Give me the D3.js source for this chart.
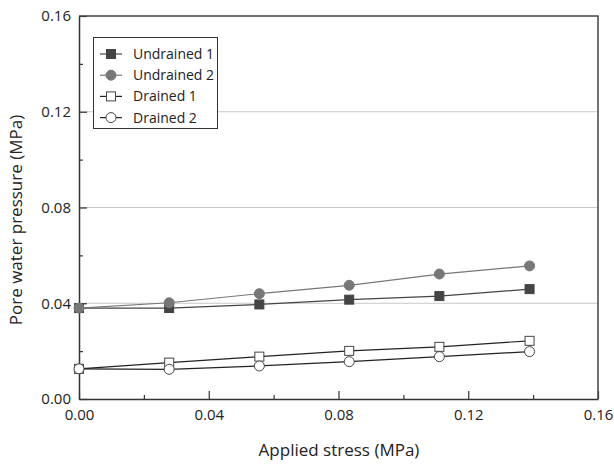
<!DOCTYPE html>
<html>
<head>
<meta charset="utf-8">
<script src="https://cdn.jsdelivr.net/npm/d3@7"></script>
<style>
  body { margin: 0; background: #fff; }
  svg { display: block; font-family: "Open Sans", "Noto Sans", sans-serif; }
</style>
</head>
<body>
<svg id="chart" width="614" height="464"></svg>
<script>
// Applied stress (MPa) at each loading step
const stress = [0, 0.0278, 0.0556, 0.0833, 0.1111, 0.1389];

// Pore water pressure (MPa) for each test
const undrained1 = [0.0380, 0.0380, 0.0395, 0.0415, 0.0430, 0.0459];
const undrained2 = [0.0380, 0.0402, 0.0440, 0.0475, 0.0522, 0.0556];
const drained1   = [0.0126, 0.0152, 0.0177, 0.0201, 0.0218, 0.0243];
const drained2   = [0.0126, 0.0124, 0.0138, 0.0156, 0.0177, 0.0198];

const seriesNames = ["Undrained 1", "Undrained 2", "Drained 1", "Drained 2"];
const xTicks = [0, 0.04, 0.08, 0.12, 0.16];
const yTicks = [0, 0.04, 0.08, 0.12, 0.16];

const series = [
  { name: seriesNames[0], values: undrained1, shape: "square", fill: "#444", stroke: "#444", line: "#444" },
  { name: seriesNames[1], values: undrained2, shape: "circle", fill: "#777", stroke: "#777", line: "#777" },
  { name: seriesNames[2], values: drained1,   shape: "square", fill: "#fff", stroke: "#444", line: "#222" },
  { name: seriesNames[3], values: drained2,   shape: "circle", fill: "#fff", stroke: "#444", line: "#222" }
];

const svg = d3.select("#chart");
const m = { left: 79, right: 598, top: 16, bottom: 399 };

const x = d3.scaleLinear().domain([0, 0.16]).range([m.left, m.right]);
const y = d3.scaleLinear().domain([0, 0.16]).range([m.bottom, m.top]);

// horizontal grid lines
svg.append("g").selectAll("line")
  .data(yTicks.filter(t => t > 0 && t < 0.16))
  .join("line")
  .attr("x1", m.left).attr("x2", m.right)
  .attr("y1", d => y(d)).attr("y2", d => y(d))
  .attr("stroke", "#c8c8c8").attr("stroke-width", 1);

// axes with inward ticks
const fmt = d3.format(".2f");
const xMinor = d3.range(0.02, 0.16, 0.04);
const yMinor = d3.range(0.02, 0.16, 0.04);

const xAxis = svg.append("g").attr("transform", `translate(0,${m.bottom})`)
  .call(d3.axisBottom(x).tickValues(xTicks).tickFormat(fmt).tickSizeInner(-8).tickSizeOuter(0).tickPadding(10));
const yAxis = svg.append("g").attr("transform", `translate(${m.left},0)`)
  .call(d3.axisLeft(y).tickValues(yTicks).tickFormat(fmt).tickSizeInner(-8).tickSizeOuter(0).tickPadding(8));

svg.append("g").attr("transform", `translate(0,${m.bottom})`)
  .call(d3.axisBottom(x).tickValues(xMinor).tickFormat("").tickSizeInner(-4).tickSizeOuter(0))
  .call(g => g.select(".domain").remove());
svg.append("g").attr("transform", `translate(${m.left},0)`)
  .call(d3.axisLeft(y).tickValues(yMinor).tickFormat("").tickSizeInner(-4).tickSizeOuter(0))
  .call(g => g.select(".domain").remove());

[xAxis, yAxis].forEach(g => {
  g.selectAll("text").attr("font-size", 15).attr("fill", "#222")
    .style("font-family", "'Open Sans', 'Noto Sans', sans-serif");
  g.select(".domain").attr("stroke", "#333").attr("stroke-width", 1.5);
});
svg.selectAll(".tick line").attr("stroke", "#333").attr("stroke-width", 1.2);

// plot frame (top and right)
svg.append("path")
  .attr("d", `M${m.left},${m.top}H${m.right}V${m.bottom}`)
  .attr("fill", "none").attr("stroke", "#444").attr("stroke-width", 1.5);

// axis titles
svg.append("text")
  .attr("x", 339).attr("y", 456)
  .attr("text-anchor", "middle").attr("font-size", 17).attr("fill", "#222")
  .text("Applied stress (MPa)");
svg.append("text")
  .attr("transform", `translate(22,220) rotate(-90)`)
  .attr("text-anchor", "middle").attr("font-size", 17).attr("fill", "#222")
  .text("Pore water pressure (MPa)");

// lines and markers
const line = d3.line().x((d, i) => x(stress[i])).y(d => y(d));

function marker(g, s, cx, cy) {
  if (s.shape === "square") {
    g.append("rect").attr("x", cx - 4.5).attr("y", cy - 4.5)
      .attr("width", 9).attr("height", 9)
      .attr("fill", s.fill).attr("stroke", s.stroke).attr("stroke-width", 1);
  } else {
    g.append("circle").attr("cx", cx).attr("cy", cy).attr("r", 5)
      .attr("fill", s.fill).attr("stroke", s.stroke).attr("stroke-width", 1);
  }
}

series.forEach(s => {
  svg.append("path").datum(s.values)
    .attr("d", line).attr("fill", "none")
    .attr("stroke", s.line).attr("stroke-width", 1.2);
});
series.forEach(s => {
  const g = svg.append("g");
  s.values.forEach((v, i) => marker(g, s, x(stress[i]), y(v)));
});

// legend
const lg = svg.append("g");
lg.append("rect").attr("x", 93.5).attr("y", 37.5).attr("width", 124).attr("height", 91)
  .attr("fill", "#fff").attr("stroke", "#333").attr("stroke-width", 1);
series.forEach((s, i) => {
  const cy = 54 + i * 21.2;
  lg.append("line").attr("x1", 100).attr("x2", 122).attr("y1", cy).attr("y2", cy)
    .attr("stroke", s.line).attr("stroke-width", 1.2);
  marker(lg, s, 111, cy);
  lg.append("text").attr("x", 133).attr("y", cy + 5)
    .attr("font-size", 14).attr("fill", "#222").text(s.name);
});
</script>
</body>
</html>
